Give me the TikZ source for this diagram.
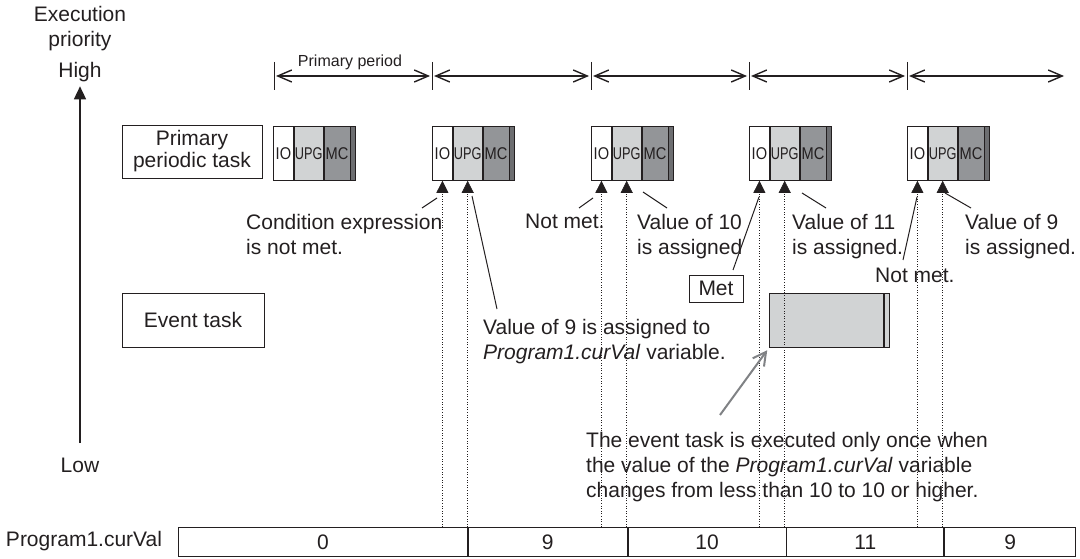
\documentclass[tikz,border=0pt]{standalone}
\usepackage{fontspec}
\setmainfont{Liberation Sans}
\newfontfamily\cellfont[FakeStretch=0.86]{Liberation Sans}
\newfontfamily\narrowfont[FakeStretch=0.75]{Liberation Sans}
\usetikzlibrary{arrows.meta, positioning}
\definecolor{txt}{HTML}{231F20}
\definecolor{upgfill}{HTML}{D1D3D4}
\definecolor{mcfill}{HTML}{939598}
\definecolor{endfill}{HTML}{6D6E71}
\definecolor{hintgray}{HTML}{808285}

\tikzset{
  taskbox/.style={draw=txt, line width=0.8pt, minimum width=140pt, minimum height=53pt, align=center, font=\fontsize{21}{22}\selectfont},
  iocell/.style={draw=txt, line width=0.8pt, fill=white, minimum width=20pt, minimum height=54pt, inner sep=0pt, font=\cellfont\fontsize{17}{17}\selectfont},
  upgcell/.style={iocell, fill=upgfill, minimum width=29pt, font=\narrowfont\fontsize{17}{17}\selectfont},
  mccell/.style={iocell, fill=mcfill, minimum width=26pt},
  endcell/.style={iocell, fill=endfill, minimum width=5pt},
  valcell/.style={draw=txt, line width=0.8pt, minimum height=29pt, inner sep=0pt, anchor=north west},
  note/.style={anchor=north west, inner sep=0pt, align=left},
  leader/.style={draw=txt, line width=1pt},
  probe/.style={draw=txt, dotted, line width=0.6pt, -{Triangle[length=12pt,width=12pt]}},
  period/.style={draw=txt, line width=1.4pt, {Straight Barb[length=14pt,width=12pt]}-{Straight Barb[length=14pt,width=12pt]}, shorten <=2pt, shorten >=2pt},
  tick/.style={draw=txt, line width=1pt}
}

\begin{document}
\begin{tikzpicture}[x=1pt, y=-1pt, every node/.style={font=\fontsize{21}{25}\selectfont, text=txt}]
  \useasboundingbox (0,0) rectangle (1080,559);

  % Priority axis
  \node (exec) at (80,29) [align=center] {Execution\\priority};
  \node (high) at (80,72) {High};
  \node (low) at (80,465) {Low};
  \draw[draw=txt, line width=1.5pt, -{Triangle[length=13pt,width=12pt]}, shorten <=11pt, shorten >=1pt] (low.north) -- (high.south);

  % Task rows
  \node (ppt) at (192,151.5) [taskbox] {Primary\\periodic task};
  \node (evt) at (193,320) [taskbox, minimum width=142pt, minimum height=54pt] {Event task};

  % Primary periods
  \coordinate (p0) at (274,76);
  \coordinate (p1) at (432,76);
  \coordinate (p2) at (591,76);
  \coordinate (p3) at (749,76);
  \coordinate (p4) at (907,76);
  \coordinate (pend) at (1064,76);
  \draw[tick] (p0) ++(0,-14) -- ++(0,28);
  \draw[tick] (p1) ++(0,-14) -- ++(0,28);
  \draw[tick] (p2) ++(0,-14) -- ++(0,28);
  \draw[tick] (p3) ++(0,-14) -- ++(0,28);
  \draw[tick] (p4) ++(0,-14) -- ++(0,28);
  \draw[period] (p0) -- (p1);
  \draw[period] (p1) -- (p2);
  \draw[period] (p2) -- (p3);
  \draw[period] (p3) -- (p4);
  \draw[period, shorten >=0pt] (p4) -- (pend);
  \node (pplabel) at (350,67) [anchor=base, font=\fontsize{16}{18}\selectfont] {Primary period};

  % Primary periodic task runs
  \node (io1) at (273,126) [iocell, anchor=north west] {IO};
  \node (upg1) [upgcell, right=0pt of io1] {UPG};
  \node (mc1) [mccell, right=0pt of upg1] {MC};
  \node (end1) [endcell, right=0pt of mc1] {};
  \node (io2) at (432,126) [iocell, anchor=north west] {IO};
  \node (upg2) [upgcell, right=0pt of io2] {UPG};
  \node (mc2) [mccell, right=0pt of upg2] {MC};
  \node (end2) [endcell, right=0pt of mc2] {};
  \node (io3) at (591,126) [iocell, anchor=north west] {IO};
  \node (upg3) [upgcell, right=0pt of io3] {UPG};
  \node (mc3) [mccell, right=0pt of upg3] {MC};
  \node (end3) [endcell, right=0pt of mc3] {};
  \node (io4) at (749,126) [iocell, anchor=north west] {IO};
  \node (upg4) [upgcell, right=0pt of io4] {UPG};
  \node (mc4) [mccell, right=0pt of upg4] {MC};
  \node (end4) [endcell, right=0pt of mc4] {};
  \node (io5) at (907,126) [iocell, anchor=north west] {IO};
  \node (upg5) [upgcell, right=0pt of io5] {UPG};
  \node (mc5) [mccell, right=0pt of upg5] {MC};
  \node (end5) [endcell, right=0pt of mc5] {};

  % Event task run
  \node (run) at (769,293) [upgcell, anchor=north west, minimum width=114pt] {};
  \node (runend) [endcell, fill=upgfill, right=0pt of run] {};

  % Program1.curVal values
  \node (var) at (84,541) {Program1.curVal};
  \node (v0) at (178,527) [valcell, minimum width=289pt] {0};
  \node (v1) [valcell, minimum width=159pt, right=0pt of v0] {9};
  \node (v2) [valcell, minimum width=158pt, right=0pt of v1] {10};
  \node (v3) [valcell, minimum width=157pt, right=0pt of v2] {11};
  \node (v4) [valcell, minimum width=131pt, right=0pt of v3] {9};

  % Evaluation points
  \draw[probe] (io2.south |- v0.north) -- (io2.south);
  \draw[probe] (upg2.south |- v0.north) -- (upg2.south);
  \draw[probe] (io3.south |- v0.north) -- (io3.south);
  \draw[probe] (upg3.south |- v0.north) -- (upg3.south);
  \draw[probe] (io4.south |- v0.north) -- (io4.south);
  \draw[probe] (upg4.south |- v0.north) -- (upg4.south);
  \draw[probe] (io5.south |- v0.north) -- (io5.south);
  \draw[probe] (upg5.south |- v0.north) -- (upg5.south);

  % Annotations
  \node (cond) at (246,214) [note] {Condition expression\\is not met.};
  \node (notmet1) at (525,214) [note] {Not met.};
  \node (asg9) at (483,319) [note] {Value of 9 is assigned to\\\textit{Program1.curVal} variable.};
  \node (asg10) at (637,214) [note] {Value of 10\\is assigned};
  \node (met) at (716,288.5) [draw=txt, line width=0.8pt, minimum width=54pt, minimum height=27pt, inner sep=0pt] {Met};
  \node (asg11) at (792,214) [note] {Value of 11\\is assigned.};
  \node (notmet2) at (875,268) [note] {Not met.};
  \node (asg9b) at (965,214) [note] {Value of 9\\is assigned.};
  \node (once) at (586,432) [note] {The event task is executed only once when\\the value of the \textit{Program1.curVal} variable\\changes from less than 10 to 10 or higher.};

  % Leaders
  \coordinate (cond-a) at (422,208);   \coordinate (cond-b) at (437,198);
  \coordinate (nm1-a) at (579,208);    \coordinate (nm1-b) at (593,198);
  \coordinate (asg9-a) at (497,309);   \coordinate (asg9-b) at (472,196);
  \coordinate (asg10-a) at (667,208);  \coordinate (asg10-b) at (643,192);
  \coordinate (met-a) at (733,270);    \coordinate (met-b) at (759,197);
  \coordinate (asg11-a) at (826,208);  \coordinate (asg11-b) at (802,193);
  \coordinate (nm2-a) at (903,260);    \coordinate (nm2-b) at (917,197);
  \coordinate (asg9b-a) at (971,208);  \coordinate (asg9b-b) at (945,193);
  \draw[leader] (cond-a) -- (cond-b);
  \draw[leader] (nm1-a) -- (nm1-b);
  \draw[leader] (asg9-a) -- (asg9-b);
  \draw[leader] (asg10-a) -- (asg10-b);
  \draw[leader] (met-a) -- (met-b);
  \draw[leader] (asg11-a) -- (asg11-b);
  \draw[leader] (nm2-a) -- (nm2-b);
  \draw[leader] (asg9b-a) -- (asg9b-b);

  % Hint arrow
  \coordinate (hint) at (720,415);
  \draw[draw=hintgray, line width=2pt, -{Straight Barb[length=13pt,width=14pt]}, shorten >=3pt] (hint) -- (run.south west);
\end{tikzpicture}
\end{document}
